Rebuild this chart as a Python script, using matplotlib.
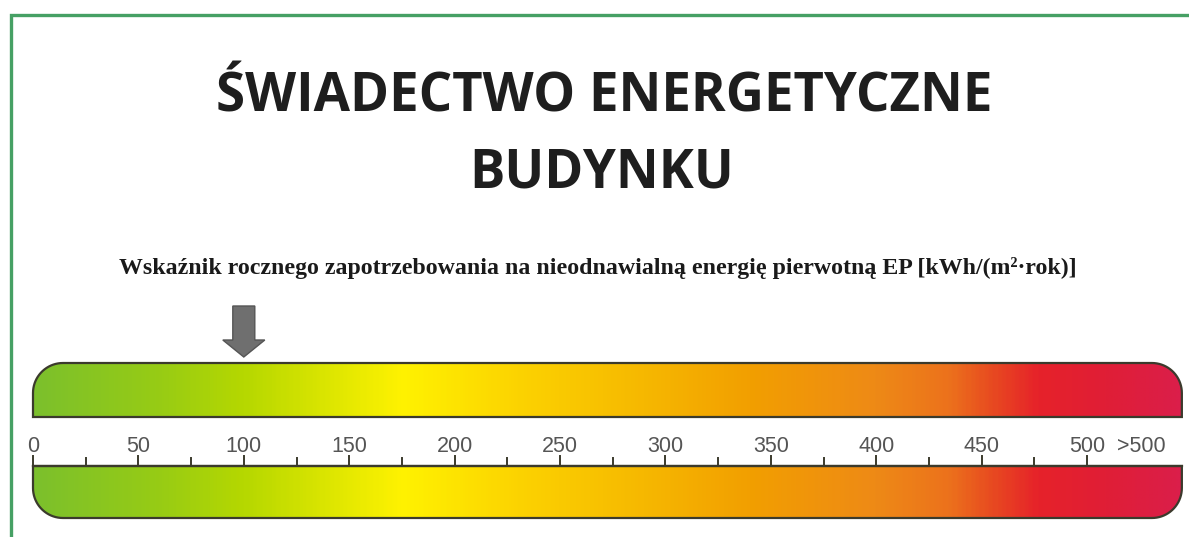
import numpy as np
import matplotlib
matplotlib.use("Agg")
import matplotlib.pyplot as plt
from matplotlib.colors import LinearSegmentedColormap
from matplotlib.patches import PathPatch, Polygon, Rectangle
from matplotlib.path import Path

# =================================
# DATA
# =================================

title_lines = ["ŚWIADECTWO ENERGETYCZNE", "BUDYNKU"]
subtitle = "Wskaźnik rocznego zapotrzebowania na nieodnawialną energię pierwotną EP [kWh/(m²·rok)]"

major_ticks = [0, 50, 100, 150, 200, 250, 300, 350, 400, 450, 500]
minor_ticks = [25, 75, 125, 175, 225, 275, 325, 375, 425, 475]
tick_labels = [str(v) for v in major_ticks]
over_label = ">500"
over_label_pos = 526

scale_max = 545          # end of the coloured bars
ep_value = 100           # arrow position

# gradient stops (value, colour)
stop_values = [0, 60, 100, 140, 175, 230, 290, 340, 400, 435, 455, 478, 510, 545]
stop_colors = ["#7cc02c", "#98cc14", "#b6d800", "#dde600", "#fff200", "#fcd300",
               "#f6b800", "#f29f00", "#ee8a16", "#ec721c", "#e84c20", "#e6222a",
               "#e01e36", "#db1e4a"]

# =================================
# LAYOUT
# =================================

W, H = 1189, 537
px_per_unit = 2.108      # horizontal pixels per kWh unit
x0_px = 33               # pixel of value 0

fig = plt.figure(figsize=(W / 100, H / 100), dpi=100)
ax = fig.add_axes([0, 0, 1, 1])
ax.set_xlim(-x0_px / px_per_unit, (W - x0_px) / px_per_unit)
ax.set_ylim(H, 0)
ax.axis("off")

# green frame
fig.patches.append(Rectangle((11 / W, -0.2), 1.2, 1.2 - 15 / H,
                             transform=fig.transFigure, fill=False,
                             edgecolor="#46a064", linewidth=2.4))

# title
ax.text(0.508, 1 - 97 / H, title_lines[0], transform=ax.transAxes, ha="center",
        va="center", fontsize=38, fontweight="bold", family="Open Sans", color="#1e1e1e")
ax.text(0.506, 1 - 173 / H, title_lines[1], transform=ax.transAxes, ha="center",
        va="center", fontsize=38, fontweight="bold", family="Open Sans", color="#1e1e1e")

ax.text(0.503, 1 - 268 / H, subtitle, transform=ax.transAxes, ha="center",
        va="center", fontsize=17.2, fontweight="bold", family="Liberation Serif",
        color="#1a1a1a")

cmap = LinearSegmentedColormap.from_list(
    "ep", [(v / scale_max, c) for v, c in zip(stop_values, stop_colors)])


def bar_path(x_left, x_right, y_top, y_bot, r_px, round_top):
    rx = r_px / px_per_unit
    ry = r_px
    t = np.linspace(0, np.pi / 2, 20)
    if round_top:
        left = [(x_left, y_bot)]
        arc1 = [(x_left + rx - rx * np.cos(a), y_top + ry - ry * np.sin(a)) for a in t]
        arc2 = [(x_right - rx + rx * np.sin(a), y_top + ry - ry * np.cos(a)) for a in t]
        verts = left + arc1 + arc2 + [(x_right, y_bot), (x_left, y_bot)]
    else:
        arc1 = [(x_left + rx - rx * np.cos(a), y_bot - ry + ry * np.sin(a)) for a in t]
        arc2 = [(x_right - rx + rx * np.sin(a), y_bot - ry + ry * np.cos(a)) for a in t]
        verts = [(x_left, y_top)] + arc1 + arc2 + [(x_right, y_top), (x_left, y_top)]
    codes = [Path.MOVETO] + [Path.LINETO] * (len(verts) - 2) + [Path.CLOSEPOLY]
    return Path(verts, codes)


grad = np.linspace(0, scale_max, 600).reshape(1, -1)
for (yt, yb, top) in [(363, 417, True), (466, 518, False)]:
    p = bar_path(0, scale_max, yt, yb, 30, top)
    patch = PathPatch(p, facecolor="none", edgecolor="#3b3a2c", linewidth=1.6, zorder=3)
    ax.add_patch(patch)
    im = ax.imshow(grad, cmap=cmap, vmin=0, vmax=scale_max, aspect="auto",
                   extent=(0, scale_max, yb, yt), zorder=2, interpolation="bilinear")
    im.set_clip_path(patch)

# axis line and ticks
ax.plot([0, scale_max], [466, 466], color="#3b3a2c", linewidth=1.6, zorder=4)
for v in major_ticks:
    ax.plot([v, v], [456, 466], color="#3b3a2c", linewidth=1.4, zorder=4)
for v in minor_ticks:
    ax.plot([v, v], [458, 466], color="#3b3a2c", linewidth=1.4, zorder=4)

for v, lab in zip(major_ticks, tick_labels):
    ax.text(v, 446, lab, ha="center", va="center", fontsize=15.5,
            family="Liberation Sans", color="#555555", zorder=5)
ax.text(over_label_pos, 446, over_label, ha="center", va="center", fontsize=15.5,
        family="Liberation Sans", color="#555555", zorder=5)

# arrow
sw = 11 / px_per_unit
hw = 21 / px_per_unit
arrow = Polygon([(ep_value - sw, 306), (ep_value + sw, 306), (ep_value + sw, 340),
                 (ep_value + hw, 340), (ep_value, 357), (ep_value - hw, 340),
                 (ep_value - sw, 340)], closed=True, facecolor="#6f6f6f",
                edgecolor="#555555", linewidth=1.0, zorder=4)
ax.add_patch(arrow)

plt.savefig("out.png", dpi=100)
